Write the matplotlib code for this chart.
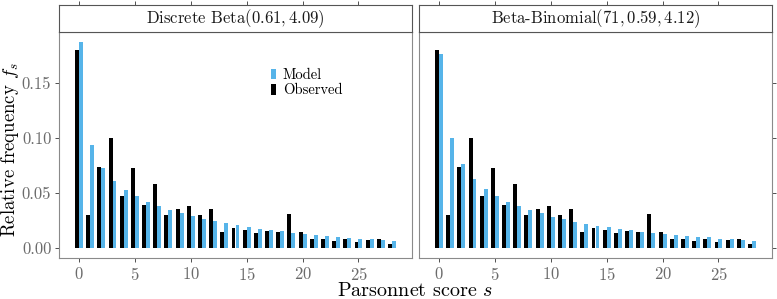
import matplotlib
matplotlib.use('Agg')
import matplotlib.pyplot as plt
import numpy as np
from matplotlib.patches import Patch
from matplotlib.ticker import FormatStrFormatter

plt.rcParams['font.family'] = 'serif'
plt.rcParams['font.serif'] = ['cmr10']
plt.rcParams['mathtext.fontset'] = 'cm'
plt.rcParams['axes.formatter.use_mathtext'] = True

# ---- data ----
scores = list(range(29))
observed = [0.180, 0.0297, 0.0736, 0.100, 0.0473, 0.0724, 0.039, 0.058, 0.0297, 0.0355,
            0.0379, 0.030, 0.0355, 0.0142, 0.0179, 0.016, 0.0133, 0.0152, 0.0139, 0.0306,
            0.0145, 0.0082, 0.0076, 0.0064, 0.0082, 0.0055, 0.0073, 0.0082, 0.0033]
model_beta = [0.187, 0.0936, 0.073, 0.061, 0.0527, 0.0467, 0.0418, 0.0376, 0.0342, 0.0312,
              0.0285, 0.0264, 0.0242, 0.0221, 0.0203, 0.019, 0.0173, 0.016, 0.0148, 0.0136,
              0.0127, 0.0115, 0.0106, 0.0097, 0.0088, 0.0082, 0.0076, 0.007, 0.0064]
model_bb = [0.176, 0.0997, 0.0758, 0.0627, 0.0536, 0.0473, 0.0418, 0.0376, 0.0342, 0.0312,
            0.0282, 0.026, 0.0236, 0.0218, 0.020, 0.0188, 0.017, 0.016, 0.0145, 0.0136,
            0.0124, 0.0115, 0.0106, 0.0097, 0.0094, 0.0082, 0.0079, 0.007, 0.0064]
panel_titles = [r'Discrete Beta$(0.61, 4.09)$', r'Beta-Binomial$(71, 0.59, 4.12)$']
x_ticks = [0, 5, 10, 15, 20, 25]
y_ticks = [0.00, 0.05, 0.10, 0.15]

BLUE = '#56B4E9'
BLACK = '#000000'
TICKCOL = '#333333'
LABCOL = '#6b6b6b'
BORDER = '#8a8a8a'

W, H = 777, 299
fig = plt.figure(figsize=(W / 100, H / 100), dpi=100)

def fx(px):
    return px / W

def fy(py):
    return 1 - py / H

panel_px = [(59, 412), (419, 772)]
top_px, bot_px, strip_top_px = 32, 258, 5

s = np.array(scores)
bw = 0.35
xlim = (-1.785, 29.785)
ylim = (-0.00935, 0.19635)

models = [model_beta, model_bb]
for i, (x0, x1) in enumerate(panel_px):
    ax = fig.add_axes([fx(x0), fy(bot_px), fx(x1 - x0), (bot_px - top_px) / H])
    ax.bar(s - bw / 2, observed, width=bw, color=BLACK, linewidth=0, label='Observed')
    ax.bar(s + bw / 2, models[i], width=bw, color=BLUE, linewidth=0, label='Model')
    ax.set_xlim(*xlim)
    ax.set_ylim(*ylim)
    ax.set_xticks(x_ticks)
    ax.set_yticks(y_ticks)
    ax.yaxis.set_major_formatter(FormatStrFormatter('%.2f'))
    for sp in ax.spines.values():
        sp.set_color(BORDER)
        sp.set_linewidth(0.8)
    ax.tick_params(axis='both', direction='out', length=3, width=0.6, color=TICKCOL,
                   labelcolor=LABCOL, labelsize=12, pad=2.5)
    if i == 1:
        ax.tick_params(axis='y', left=False, labelleft=False, right=True, labelright=False)
    # strip
    sax = fig.add_axes([fx(x0), fy(top_px), fx(x1 - x0), (top_px - strip_top_px) / H])
    sax.set_xlim(*xlim)
    sax.set_xticks(x_ticks)
    sax.set_yticks([])
    sax.tick_params(axis='x', bottom=False, labelbottom=False, top=True, labeltop=False,
                    direction='out', length=3, width=0.6, color=TICKCOL)
    for sp in sax.spines.values():
        sp.set_color('#555555')
        sp.set_linewidth(0.8)
    sax.text(0.5, 0.5, panel_titles[i], transform=sax.transAxes, ha='center', va='center',
             fontsize=12, color='#1a1a1a')
    if i == 0:
        handles = [Patch(facecolor=BLUE, edgecolor='none', label='Model'),
                   Patch(facecolor=BLACK, edgecolor='none', label='Observed')]
        ax.legend(handles=handles, loc='center left', bbox_to_anchor=(0.58, 0.775),
                  frameon=False, fontsize=10.5, handlelength=0.35, handleheight=0.75,
                  handletextpad=0.45, labelspacing=0.1, borderpad=0)

fig.text(fx((59 + 772) / 2), fy(296), r'Parsonnet score $s$', ha='center', va='baseline',
         fontsize=14.5)
fig.text(fx(10), fy(149), r'Relative frequency $f_s$', ha='center',
         va='center', rotation=90, fontsize=13.5)

fig.savefig('out.png', dpi=100)
